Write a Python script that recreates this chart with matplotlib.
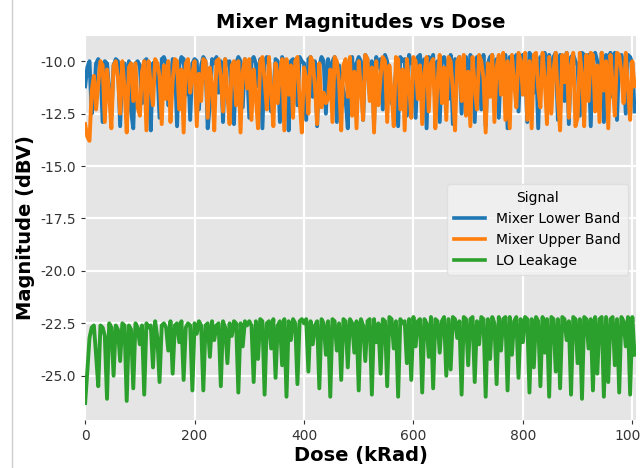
import numpy as np
import matplotlib
matplotlib.use('Agg')
import matplotlib.pyplot as plt
from matplotlib.lines import Line2D
from matplotlib.ticker import FormatStrFormatter

# Dose steps (kRad)
dose = list(range(0, 1008, 4))

mixer_lower = [
    -11.2, -10.3, -10.0, -12.5, -11.8, -10.1, -9.9, -10.2, -12.9, -10.0, -10.1, -11.4, -12.6, -10.2, -9.9, -10.0, -13.1, -10.3, -10.1, -11.7, -10.0, -12.4, -13.2, -10.1, -10.0,
    -10.2, -12.0, -10.0, -9.9, -11.3, -13.3, -10.1, -10.0, -10.3, -12.7, -9.9, -9.8, -10.1, -12.1, -11.0, -9.9, -10.0, -13.1, -10.2, -9.8, -9.9, -11.6, -10.0, -12.8, -10.1,
    -9.9, -10.0, -12.3, -10.2, -9.8, -10.0, -13.2, -12.1, -9.9, -10.1, -9.8, -11.5, -10.0, -12.9, -9.9, -10.2, -10.0, -11.9, -13.0, -10.1, -9.8, -10.0, -12.2, -9.9, -10.3,
    -12.7, -10.0, -9.8, -10.1, -11.2, -9.9, -13.2, -10.0, -9.8, -10.2, -12.4, -11.6, -9.9, -10.0, -12.9, -9.8, -10.1, -11.0, -13.3, -10.0, -9.9, -10.3, -12.1, -9.8, -10.0,
    -10.1, -12.8, -9.9, -9.8, -11.7, -10.0, -13.1, -10.2, -9.8, -10.0, -12.5, -9.9, -11.1, -10.0, -9.8, -12.9, -10.2, -10.9, -11.4, -11.8, -13.2, -10.0, -9.8, -11.5, -10.1,
    -9.8, -10.0, -12.8, -9.7, -9.9, -11.6, -10.0, -13.0, -9.8, -10.3, -9.9, -12.3, -9.7, -10.0, -11.2, -12.0, -11.7, -10.5, -13.1, -9.8, -10.0, -9.9, -12.6, -9.7, -10.1,
    -10.0, -12.7, -9.8, -9.7, -11.3, -9.9, -13.2, -9.8, -10.1, -9.7, -12.1, -10.0, -12.9, -9.9, -9.8, -10.2, -11.8, -9.7, -13.0, -9.9, -10.0, -9.8, -12.5, -10.1, -9.8,
    -11.4, -9.7, -9.9, -12.9, -9.8, -10.0, -12.3, -9.7, -13.1, -10.1, -9.8, -9.7, -11.9, -9.9, -12.7, -9.8, -10.2, -9.7, -13.2, -9.8, -11.2, -10.0, -9.7, -12.4, -9.9,
    -9.7, -10.0, -12.9, -9.6, -9.8, -11.5, -9.7, -13.2, -9.8, -10.2, -9.6, -12.3, -9.7, -11.0, -9.8, -9.6, -12.8, -9.7, -10.1, -11.9, -9.6, -13.0, -9.8, -9.7, -10.0,
    -10.2, -12.6, -9.6, -9.7, -11.2, -9.7, -13.1, -9.8, -9.6, -10.0, -12.2, -9.6, -12.9, -9.7, -10.3, -9.6, -11.7, -9.6, -12.8, -9.8, -9.7, -10.1, -12.5, -9.7, -9.8,
    -10.1, -12.4,
]

mixer_upper = [
    -13.0, -13.6, -13.8, -11.4, -10.7, -12.3, -11.1, -10.0, -10.2, -12.9, -10.4, -11.6, -13.2, -10.2, -10.0, -10.8, -12.5, -10.0, -11.3, -13.4, -10.3, -10.1, -11.9, -10.1, -12.2,
    -12.6, -10.5, -10.0, -13.3, -10.0, -11.2, -12.1, -9.9, -10.1, -10.7, -13.0, -10.2, -11.8, -10.0, -12.9, -10.9, -9.9, -10.0, -12.3, -10.4, -13.4, -10.1, -9.9, -11.5, -10.6,
    -10.0, -13.1, -10.6, -11.9, -9.9, -10.0, -12.7, -10.3, -11.1, -13.3, -10.0, -9.9, -10.8, -12.4, -9.9, -11.6, -13.0, -10.2, -10.0, -12.1, -10.0, -13.4, -10.5, -9.9, -11.3,
    -9.9, -12.8, -10.4, -11.7, -13.2, -10.0, -9.8, -10.9, -12.3, -9.8, -11.4, -13.1, -10.1, -12.0, -10.5, -9.9, -13.3, -9.9, -11.6, -10.2, -12.7, -10.0, -9.8, -11.9, -13.4,
    -10.3, -10.8, -12.5, -9.8, -10.0, -11.2, -13.0, -10.1, -12.2, -11.5, -12.0, -11.8, -10.4, -12.9, -9.8, -10.0, -11.0, -13.3, -10.2, -9.9, -11.7, -9.8, -12.6, -10.5, -13.2,
    -10.0, -11.3, -12.8, -9.7, -9.9, -11.9, -10.3, -13.4, -10.0, -12.1, -10.7, -9.8, -10.0, -12.9, -10.2, -11.5, -13.1, -9.8, -9.9, -12.3, -10.4, -13.3, -9.9, -11.1, -12.7,
    -9.8, -10.0, -11.8, -10.2, -13.0, -10.6, -9.8, -12.4, -10.1, -9.9, -13.2, -11.0, -9.7, -12.0, -10.3, -12.8, -9.8, -10.0, -11.4, -13.3, -10.0, -9.8, -11.9, -9.7, -12.6,
    -10.5, -13.1, -9.8, -11.2, -12.3, -9.7, -10.0, -10.8, -13.4, -10.1, -11.7, -9.7, -12.9, -10.3, -9.7, -11.6, -9.6, -12.8, -10.0, -13.2, -9.7, -11.0, -12.2, -9.6, -10.0,
    -11.6, -9.6, -12.8, -10.0, -13.2, -9.7, -9.6, -11.3, -12.2, -9.6, -10.9, -13.0, -9.8, -12.5, -10.4, -9.6, -11.8, -13.3, -9.7, -11.0, -9.6, -12.7, -10.2, -9.6, -13.1,
    -12.7, -9.6, -10.6, -13.1, -9.7, -11.9, -9.6, -9.7, -12.4, -10.2, -12.9, -9.6, -11.4, -10.0, -13.2, -9.7, -11.1, -12.6, -9.6, -9.7, -10.5, -12.0, -9.6, -11.3, -12.8,
    -10.0, -11.2,
]

lo_leakage = [
    -26.3, -24.8, -23.2, -22.7, -22.6, -24.0, -25.5, -22.6, -22.7, -23.1, -26.1, -22.5, -22.7, -25.0, -22.6, -22.8, -24.3, -22.5, -22.6, -26.2, -22.6, -22.8, -25.6, -22.5, -22.7,
    -23.5, -22.6, -25.9, -22.5, -22.7, -22.6, -24.6, -22.4, -23.2, -25.3, -22.6, -22.5, -22.7, -23.8, -22.4, -24.9, -22.6, -22.5, -23.4, -22.4, -25.2, -22.7, -22.5, -22.6, -25.7,
    -22.5, -23.0, -22.4, -22.6, -25.7, -22.6, -22.5, -24.1, -22.4, -23.3, -22.6, -22.5, -25.5, -22.4, -22.7, -24.4, -22.5, -23.1, -22.4, -22.5, -25.8, -22.5, -23.6, -22.4, -22.6,
    -22.4, -22.6, -25.3, -22.4, -24.2, -22.3, -22.4, -25.9, -22.5, -22.4, -23.7, -22.3, -25.1, -22.6, -22.4, -24.5, -22.3, -26.0, -22.4, -23.3, -22.3, -22.5, -25.4, -22.4, -22.3,
    -22.5, -22.3, -24.8, -22.4, -23.5, -22.6, -22.4, -25.6, -22.3, -22.5, -24.0, -22.4, -26.0, -22.3, -22.4, -23.8, -22.5, -25.2, -22.3, -22.4, -24.6, -22.3, -22.5, -23.9, -22.4,
    -25.7, -22.3, -22.6, -24.3, -22.4, -22.3, -25.9, -22.3, -23.4, -22.5, -24.9, -22.3, -22.4, -25.5, -22.2, -22.3, -23.7, -22.4, -26.0, -22.3, -22.5, -22.4, -24.4, -22.3, -25.2,
    -22.2, -23.6, -22.4, -22.3, -25.8, -22.3, -22.5, -24.1, -22.2, -25.6, -22.3, -22.4, -23.9, -22.4, -22.2, -25.0, -22.3, -24.7, -22.2, -22.3, -23.2, -22.4, -25.9, -22.2, -22.3,
    -24.5, -22.3, -22.2, -25.3, -22.4, -23.5, -22.2, -22.3, -26.0, -22.3, -24.2, -22.2, -22.5, -25.4, -22.2, -23.8, -22.3, -22.2, -25.7, -22.2, -24.0, -22.4, -22.2, -25.1, -22.3,
    -23.4, -22.2, -22.3, -25.8, -22.3, -24.6, -22.2, -22.4, -25.5, -22.2, -23.9, -22.3, -26.0, -22.2, -22.3, -24.8, -22.3, -25.6, -22.2, -22.3, -23.3, -22.4, -25.9, -22.2, -22.3,
    -24.4, -22.3, -26.1, -22.2, -22.3, -23.7, -22.3, -25.7, -22.2, -24.9, -22.3, -22.2, -26.0, -22.2, -25.3, -22.3, -22.2, -24.5, -22.3, -25.8, -22.2, -22.4, -23.6, -22.2, -25.9,
    -22.2, -24.0,
]

series = [
    ('Mixer Lower Band', mixer_lower, '#1f77b4'),
    ('Mixer Upper Band', mixer_upper, '#ff7f0e'),
    ('LO Leakage', lo_leakage, '#2ca02c'),
]

fig = plt.figure(figsize=(6.4, 4.68), dpi=100)
ax = fig.add_axes([0.133, 0.103, 0.861, 0.820])

ax.set_facecolor('#E5E5E5')
for s in ax.spines.values():
    s.set_visible(False)
ax.grid(True, color='white', linewidth=1.6)
ax.set_axisbelow(True)

for name, vals, col in series:
    n = min(len(dose), len(vals))
    ax.plot(dose[:n], vals[:n], color=col, linewidth=2.8, label=name)

ax.set_xlim(0, 1007)
ax.set_ylim(-27.1, -8.8)
ax.set_xticks([0, 200, 400, 600, 800, 1000])
ax.set_yticks([-25.0, -22.5, -20.0, -17.5, -15.0, -12.5, -10.0])
ax.yaxis.set_major_formatter(FormatStrFormatter('%.1f'))
ax.tick_params(labelsize=10, colors='#333333', length=3, width=0.8)

ax.set_title('Mixer Magnitudes vs Dose', fontsize=14, fontweight='bold')
ax.set_xlabel('Dose (kRad)', fontsize=14, fontweight='bold', labelpad=2)
ax.set_ylabel('Magnitude (dBV)', fontsize=14, fontweight='bold')

leg = ax.legend(title='Signal', loc='upper right', bbox_to_anchor=(0.997, 0.633),
                fontsize=10, title_fontsize=10, frameon=True, handlelength=2.2,
                borderpad=0.5, labelspacing=0.5)
leg.get_frame().set_facecolor('#F2F2F2')
leg.get_frame().set_edgecolor('#DDDDDD')
for ln in leg.get_lines():
    ln.set_linewidth(2.6)

# thin border on the left edge of the image
fig.add_artist(Line2D([0.019, 0.019], [0, 1], color='#CCCCCC', linewidth=1))

fig.savefig('out.png', dpi=100)
